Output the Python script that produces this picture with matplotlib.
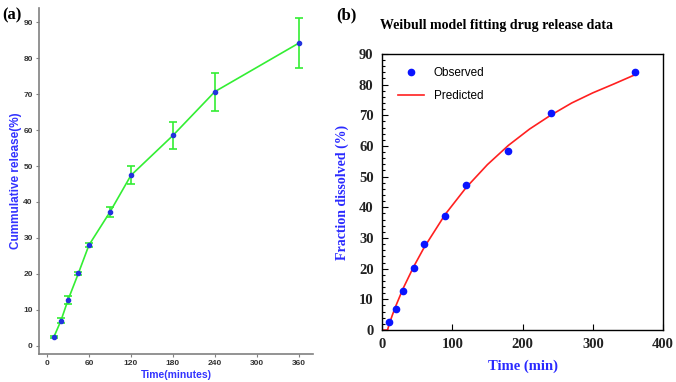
import matplotlib.pyplot as plt
from matplotlib.ticker import MultipleLocator

# data
time_min = [10, 20, 30, 45, 60, 90, 120, 180, 240, 360]
release = [2.5, 7.0, 12.7, 20.2, 28.0, 37.2, 47.4, 58.5, 70.7, 84.2]
release_err = [0.3, 0.8, 1.2, 0.4, 0.5, 1.3, 2.5, 3.8, 5.3, 7.0]

# predicted curve (b)
pred_t = [0, 8, 10, 15, 20, 30, 45, 60, 90, 120, 150, 180, 210, 240, 270, 300, 330, 360]
pred_f = [0, 0, 1.7, 5.0, 8.0, 13.5, 20.6, 26.9, 37.7, 46.5, 53.9, 60.2, 65.5, 70.0, 74.0,
          77.3, 80.2, 83.2]

serif = 'Liberation Serif'
sans = 'Liberation Sans'

fig = plt.figure(figsize=(6.76, 3.82), dpi=100)

# ---- (a) ----
ax1 = fig.add_axes([0.0577, 0.0733, 0.405, 0.906])
ax1.errorbar(time_min, release, yerr=release_err, color='#33ee33', lw=1.2,
             capsize=3, capthick=1.2, elinewidth=1.2, marker='o', ms=3,
             mfc='#2233dd', mec='#2233dd', zorder=3)
ax1.set_xlim(-11.4, 380)
ax1.set_ylim(-2.3, 94)
ax1.set_xticks([0, 60, 120, 180, 240, 300, 360])
ax1.set_yticks(range(0, 91, 10))
for s in ['top', 'right']:
    ax1.spines[s].set_visible(False)
for s in ['left', 'bottom']:
    ax1.spines[s].set_color('#808080')
    ax1.spines[s].set_linewidth(1.2)
ax1.tick_params(length=2.5, width=0.8, color='#808080', labelsize=6,
                labelcolor='#333333', pad=2)
for lab in ax1.get_xticklabels() + ax1.get_yticklabels():
    lab.set_fontweight('bold')
    lab.set_family(sans)
ax1.set_xlabel('Time(minutes)', color='#3333ff', fontsize=7.5, fontweight='bold',
               family=sans, labelpad=2)
ax1.set_ylabel('Cummulative release(%)', color='#3333ff', fontsize=8.5,
               fontweight='bold', family=sans, labelpad=1)

# ---- (b) ----
ax2 = fig.add_axes([0.565, 0.136, 0.416, 0.723])
ax2.plot(pred_t, pred_f, color='#ff2020', lw=1.2, label='Predicted', zorder=2)
ax2.plot(time_min, release, 'o', color='#0a14ff', ms=4.5, label='Observed', zorder=3)
ax2.set_xlim(0, 400)
ax2.set_ylim(0, 90)
ax2.xaxis.set_major_locator(MultipleLocator(100))
ax2.yaxis.set_major_locator(MultipleLocator(10))
ax2.yaxis.set_minor_locator(MultipleLocator(2))
ax2.tick_params(which='both', direction='in', top=False, right=False, width=0.8)
ax2.tick_params(which='major', length=4, labelsize=10.5, pad=6)
ax2.tick_params(which='minor', length=2.5)
ax2.tick_params(axis='x', which='minor', length=0)
for lab in ax2.get_xticklabels() + ax2.get_yticklabels():
    lab.set_fontweight('bold')
    lab.set_family(serif)
    lab.set_color('#222222')
for s in ax2.spines.values():
    s.set_linewidth(1)
ax2.set_xlabel('Time (min)', color='#2a2aff', fontsize=10.5, fontweight='bold',
               family=serif, labelpad=6)
ax2.set_ylabel('Fraction dissolved (%)', color='#2a2aff', fontsize=10,
               fontweight='bold', family=serif, labelpad=7)
h, l = ax2.get_legend_handles_labels()
ax2.legend(h[::-1], l[::-1], loc='upper left', frameon=False,
           prop={'family': sans, 'size': 8.5},
           bbox_to_anchor=(0.02, 0.99), handlelength=2.2, labelspacing=0.9)

fig.text(0.734, 0.932, 'Weibull model fitting drug release data',
         ha='center', va='center', fontsize=10, fontweight='bold', family=serif)
fig.text(0.003, 0.96, '(a)', fontsize=12, fontweight='bold', family=serif,
         va='center')
fig.text(0.498, 0.96, '(b)', fontsize=12, fontweight='bold', family=serif,
         va='center')

fig.savefig('out.png', dpi=100)
